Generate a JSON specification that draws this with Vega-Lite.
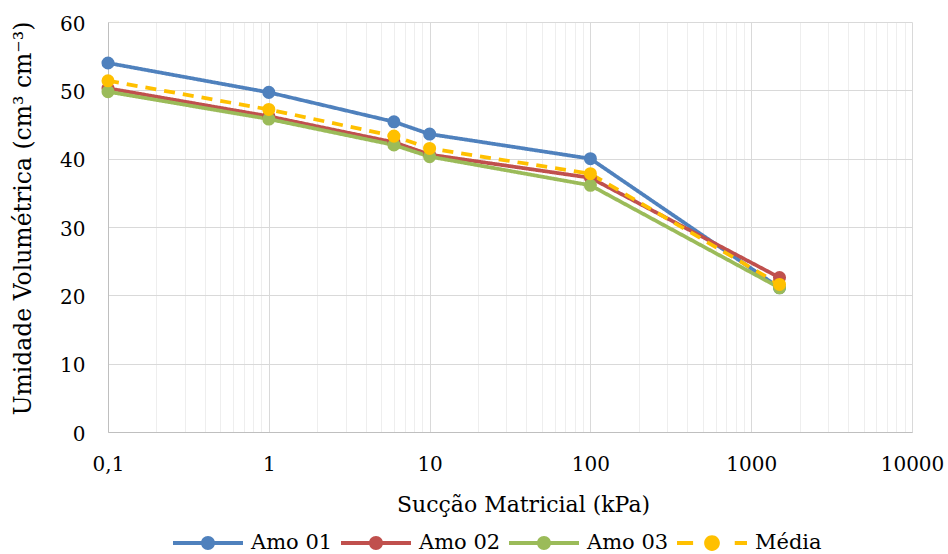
{
  "$schema": "https://vega.github.io/schema/vega-lite/v6.json",
  "autosize": "none",
  "width": 804,
  "height": 410,
  "padding": {"left": 108, "top": 22, "right": 36, "bottom": 122},
  "background": "white",
  "config": {"font": "DejaVu Serif", "view": {"stroke": null}},
  "data": {
    "values": [
      {"serie": "Amo 01", "x": 0.1, "y": 54.0},
      {"serie": "Amo 01", "x": 1, "y": 49.7},
      {"serie": "Amo 01", "x": 6, "y": 45.4},
      {"serie": "Amo 01", "x": 10, "y": 43.6},
      {"serie": "Amo 01", "x": 100, "y": 40.0},
      {"serie": "Amo 01", "x": 1500, "y": 21.1},
      {"serie": "Amo 02", "x": 0.1, "y": 50.3},
      {"serie": "Amo 02", "x": 1, "y": 46.2},
      {"serie": "Amo 02", "x": 6, "y": 42.4},
      {"serie": "Amo 02", "x": 10, "y": 40.6},
      {"serie": "Amo 02", "x": 100, "y": 37.2},
      {"serie": "Amo 02", "x": 1500, "y": 22.6},
      {"serie": "Amo 03", "x": 0.1, "y": 49.8},
      {"serie": "Amo 03", "x": 1, "y": 45.8},
      {"serie": "Amo 03", "x": 6, "y": 42.0},
      {"serie": "Amo 03", "x": 10, "y": 40.3},
      {"serie": "Amo 03", "x": 100, "y": 36.1},
      {"serie": "Amo 03", "x": 1500, "y": 21.1},
      {"serie": "Média", "x": 0.1, "y": 51.4},
      {"serie": "Média", "x": 1, "y": 47.2},
      {"serie": "Média", "x": 6, "y": 43.3},
      {"serie": "Média", "x": 10, "y": 41.5},
      {"serie": "Média", "x": 100, "y": 37.8},
      {"serie": "Média", "x": 1500, "y": 21.6}
    ]
  },
  "encoding": {
    "x": {
      "field": "x",
      "type": "quantitative",
      "scale": {"type": "log", "domain": [0.1, 10000], "nice": false},
      "axis": {
        "title": "Sucção Matricial (kPa)",
        "values": [0.1, 0.2, 0.3, 0.4, 0.5, 0.6, 0.7, 0.8, 0.9, 1, 2, 3, 4, 5, 6, 7, 8, 9, 10, 20, 30, 40, 50, 60, 70, 80, 90, 100, 200, 300, 400, 500, 600, 700, 800, 900, 1000, 2000, 3000, 4000, 5000, 6000, 7000, 8000, 9000, 10000],
        "labelExpr": "indexof([0.1,1,10,100,1000,10000], datum.value) >= 0 ? (datum.value == 0.1 ? '0,1' : format(datum.value, 'd')) : ''",
        "grid": true,
        "gridColor": {"condition": {"test": "indexof([0.1,1,10,100,1000,10000], datum.value) >= 0", "value": "#d9d9d9"}, "value": "#eeeeee"},
        "gridWidth": 1,
        "ticks": false,
        "tickSize": 0,
        "domainColor": "#bfbfbf",
        "domainWidth": 1,
        "labelFont": "DejaVu Serif",
        "labelFontSize": 20,
        "labelColor": "#000000",
        "labelPadding": 22,
        "labelFlush": false,
        "labelOverlap": false,
        "labelBound": false,
        "titleFont": "DejaVu Serif",
        "titleFontSize": 22,
        "titleFontWeight": "normal",
        "titleColor": "#000000",
        "titlePadding": 20,
        "titleX": 415
      }
    },
    "y": {
      "field": "y",
      "type": "quantitative",
      "scale": {"domain": [0, 60], "nice": false},
      "axis": {
        "title": "Umidade Volumétrica (cm³ cm⁻³)",
        "values": [0, 10, 20, 30, 40, 50, 60],
        "grid": true,
        "gridColor": "#d9d9d9",
        "gridWidth": 1,
        "ticks": false,
        "tickSize": 0,
        "domainColor": "#bfbfbf",
        "domainWidth": 1,
        "labelFont": "DejaVu Serif",
        "labelFontSize": 20,
        "labelColor": "#000000",
        "labelPadding": 23,
        "labelOffset": 2,
        "titleFont": "DejaVu Serif",
        "titleFontSize": 23.5,
        "titleFontWeight": "normal",
        "titleColor": "#000000",
        "titlePadding": 24,
        "titleY": 196
      }
    },
    "color": {
      "field": "serie",
      "type": "nominal",
      "scale": {"domain": ["Amo 01", "Amo 02", "Amo 03", "Média"], "range": ["#4f81bd", "#c0504d", "#9bbb59", "#ffc000"]},
      "legend": {
        "orient": "none",
        "legendX": 65,
        "legendY": 486,
        "direction": "horizontal",
        "title": null,
        "padding": 0,
        "symbolSize": 4900,
        "symbolStrokeWidth": 0,
        "labelOffset": 8,
        "columnPadding": 8,
        "labelFont": "DejaVu Serif",
        "labelFontSize": 21,
        "labelColor": "#000000",
        "encode": {
          "symbols": {
            "update": {
              "shape": {"signal": "datum.value === 'Média' ? 'M-1,-0.055H-0.54V0.055H-1Z M0.65,-0.055H1V0.055H0.65Z M0.225,0A0.225,0.225 0 1,1 -0.225,0A0.225,0.225 0 1,1 0.225,0Z' : 'M-1,-0.055H-0.19V0.055H-1Z M0.19,-0.055H1V0.055H0.19Z M0.2,0A0.2,0.2 0 1,1 -0.2,0A0.2,0.2 0 1,1 0.2,0Z'"},
              "fill": {"signal": "scale('color', datum.value)"},
              "opacity": {"value": 1},
              "fillOpacity": {"value": 1},
              "strokeWidth": {"value": 0}
            }
          }
        }
      }
    }
  },
  "layer": [
    {
      "mark": {"type": "line", "strokeWidth": 3.75},
      "encoding": {
        "strokeDash": {
          "field": "serie",
          "type": "nominal",
          "scale": {"domain": ["Amo 01", "Amo 02", "Amo 03", "Média"], "range": [[1, 0], [1, 0], [1, 0], [11, 8]]},
          "legend": null
        }
      }
    },
    {
      "mark": {"type": "point", "filled": true, "size": 170, "opacity": 1},
      "encoding": {}
    }
  ]
}
